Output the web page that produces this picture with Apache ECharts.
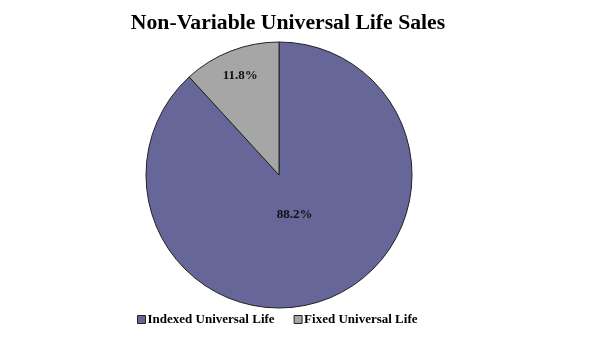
<!DOCTYPE html>
<html><head><meta charset="utf-8">
<script src="https://cdn.jsdelivr.net/npm/echarts@6/dist/echarts.min.js"></script>
<style>html,body{margin:0;padding:0;background:#fff}#c{width:592px;height:358px}</style>
</head><body><div id="c"></div>
<script>
const categories = ['Indexed Universal Life', 'Fixed Universal Life'];
const values = [88.2, 11.8];
const colors = ['#666699', '#A6A6A6'];
const FONT = '"Liberation Serif", "Times New Roman", serif';
const chart = echarts.init(document.getElementById('c'));
const data = categories.map((n, i) => ({ name: n, value: values[i], itemStyle: { color: colors[i] } }));
function labelSeries(idx, radius) {
  return {
    type: 'pie', center: [279, 175], radius: radius, startAngle: 90, clockwise: true,
    silent: true, animation: false, legendHoverLink: false,
    itemStyle: { color: 'rgba(0,0,0,0)', borderWidth: 0 },
    label: {
      show: true, position: 'inside', fontFamily: FONT, fontWeight: 'bold', fontSize: 13, color: '#111',
      formatter: p => p.dataIndex === idx ? p.value.toFixed(1) + '%' : ''
    },
    labelLine: { show: false },
    data: categories.map((n, i) => ({ name: n + ' ', value: values[i] }))
  };
}
chart.setOption({
  animation: false,
  title: {
    text: 'Non-Variable Universal Life Sales', left: 283, top: 7, textAlign: 'center',
    textStyle: { fontFamily: FONT, fontWeight: 'bold', fontSize: 21.7, color: '#000' }
  },
  legend: {
    data: categories, bottom: 27, left: 132, itemWidth: 8, itemHeight: 8, itemGap: 19,
    icon: 'rect', selectedMode: false,
    itemStyle: { borderColor: '#222', borderWidth: 1 },
    textStyle: { fontFamily: FONT, fontWeight: 'bold', fontSize: 13, color: '#000', padding: [0, 0, 0, -3] }
  },
  series: [
    {
      type: 'pie', center: [279, 175], radius: [0, 133], startAngle: 90, clockwise: true,
      itemStyle: { borderColor: '#222', borderWidth: 1 },
      label: { show: false }, labelLine: { show: false },
      emphasis: { disabled: true },
      data: data
    },
    labelSeries(1, [0, 208]),
    labelSeries(0, [0, 80])
  ]
});
</script></body></html>
